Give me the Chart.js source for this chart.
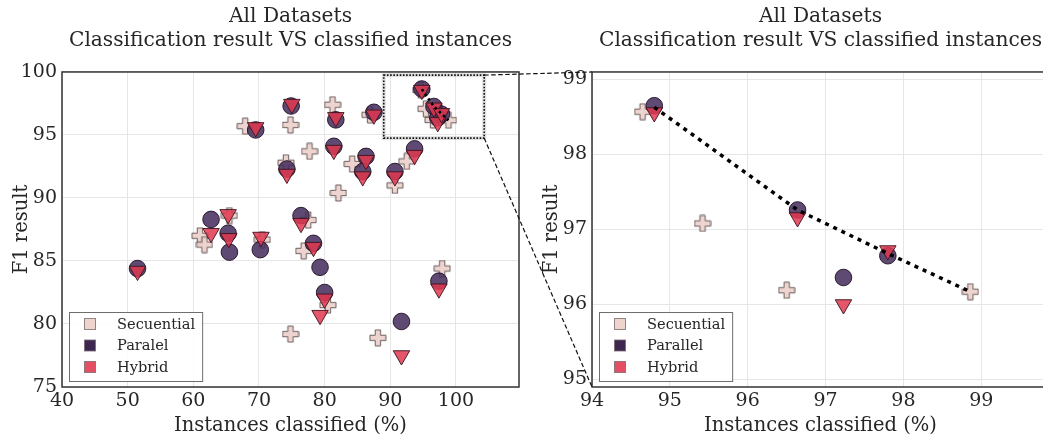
<!DOCTYPE html>
<html>
<head>
<meta charset="utf-8">
<script src="https://cdn.jsdelivr.net/npm/chart.js@4.4.1/dist/chart.umd.min.js"></script>
<style>
  html, body { margin: 0; padding: 0; background: #fff; overflow: hidden; }
  #wrap { position: relative; width: 1043px; height: 440px; overflow: hidden; }
  #left { position: absolute; left: 0; top: 0; }
  #right { position: absolute; left: 530px; top: 0; }
  #links { position: absolute; left: 0; top: 0; pointer-events: none; }
</style>
</head>
<body>
<div id="wrap">
  <canvas id="left" width="530" height="440"></canvas>
  <canvas id="right" width="530" height="440"></canvas>
  <canvas id="links" width="1043" height="440"></canvas>
</div>
<script>
// values
const sequentialX = [61.0, 61.7, 65.5, 70.5, 67.9, 74.8, 74.1, 74.8, 77.7, 77.5, 76.8, 80.5,
  81.2, 82.1, 84.2, 86.9, 88.1, 90.7, 92.5, 94.65, 95.42, 96.5, 98.86, 97.9];
const sequentialY = [87.0, 86.3, 88.6, 86.7, 95.7, 95.8, 92.8, 79.2, 93.7, 88.25, 85.8, 81.5,
  97.4, 90.4, 92.7, 96.6, 78.9, 91.0, 92.9, 98.57, 97.08, 96.19, 96.17, 84.4];

const parallelX = [51.5, 62.7, 65.3, 65.5, 70.2, 69.5, 74.9, 74.25, 76.4, 78.3, 79.3, 80.0,
  81.4, 81.7, 85.8, 86.3, 87.5, 90.7, 91.7, 93.7, 94.8, 96.64, 97.23, 97.8, 97.4];
const parallelY = [84.4, 88.3, 87.2, 85.7, 85.9, 95.4, 97.3, 92.3, 88.6, 86.4, 84.5, 82.5,
  94.1, 96.2, 92.1, 93.3, 96.8, 92.1, 80.2, 93.9, 98.65, 97.26, 96.36, 96.65, 83.4];

const hybridX = [51.5, 62.7, 65.3, 65.4, 70.3, 69.5, 75.0, 74.25, 76.4, 78.3, 80.0, 79.3,
  81.4, 81.7, 85.8, 86.3, 87.5, 90.7, 91.7, 93.7, 94.8, 96.64, 97.23, 97.8, 97.4];
const hybridY = [84.2, 87.2, 88.7, 86.8, 86.9, 95.6, 97.45, 91.9, 88.0, 86.1, 82.0, 80.7,
  93.8, 96.4, 91.7, 93.0, 96.6, 91.7, 77.5, 93.4, 98.56, 97.16, 96.0, 96.72, 82.8];

// black dotted front through the best points
const frontX = [94.8, 96.64, 97.8, 98.86];
const frontY = [98.63, 97.26, 96.68, 96.17];

const titleLines = ['All Datasets', 'Classification result VS classified instances'];
const xLabel = 'Instances classified (%)';
const yLabel = 'F1 result';
const leftNames = ['Secuential', 'Paralel', 'Hybrid'];
const rightNames = ['Secuential', 'Parallel', 'Hybrid'];

const leftRange = { xMin: 40, xMax: 109.6, yMin: 75, yMax: 100, xStep: 10, yStep: 5 };
const rightRange = { xMin: 94, xMax: 99.87, yMin: 94.9, yMax: 99.1, xStep: 1, yStep: 1 };
const zoomBox = { xMin: 89, xMax: 104.3, yMin: 94.75, yMax: 99.75 };

const legendColors = ['#efd3cd', '#3d2650', '#e54f63'];

const toPoints = (xs, ys) => xs.map((x, i) => ({ x: x, y: ys[i] }));

Chart.defaults.font.family = "'DejaVu Serif', serif";
Chart.defaults.color = '#262626';

// filled plus marker
const plus = document.createElement('canvas');
plus.width = 18;
plus.height = 18;
(() => {
  const c = plus.getContext('2d');
  const s = 16, t = s / 3, o = 1;
  c.beginPath();
  c.moveTo(o + t, o);
  c.lineTo(o + 2 * t, o);
  c.lineTo(o + 2 * t, o + t);
  c.lineTo(o + s, o + t);
  c.lineTo(o + s, o + 2 * t);
  c.lineTo(o + 2 * t, o + 2 * t);
  c.lineTo(o + 2 * t, o + s);
  c.lineTo(o + t, o + s);
  c.lineTo(o + t, o + 2 * t);
  c.lineTo(o, o + 2 * t);
  c.lineTo(o, o + t);
  c.lineTo(o + t, o + t);
  c.closePath();
  c.fillStyle = 'rgba(235,206,200,0.88)';
  c.fill();
  c.strokeStyle = 'rgba(85,70,72,0.85)';
  c.lineWidth = 1;
  c.stroke();
})();

const framePlugin = {
  id: 'frame',
  afterDatasetsDraw(chart, args, opts) {
    const { ctx, chartArea: a } = chart;
    ctx.save();
    ctx.strokeStyle = '#333';
    ctx.lineWidth = 1.5;
    ctx.strokeRect(a.left, a.top, a.right - a.left, a.bottom - a.top);

    if (opts.box) {
      const sx = chart.scales.x, sy = chart.scales.y;
      const x0 = sx.getPixelForValue(opts.box.xMin), x1 = sx.getPixelForValue(opts.box.xMax);
      const y0 = sy.getPixelForValue(opts.box.yMax), y1 = sy.getPixelForValue(opts.box.yMin);
      ctx.strokeStyle = 'rgba(0,0,0,0.12)';
      ctx.lineWidth = 4;
      ctx.strokeRect(x0, y0, x1 - x0, y1 - y0);
      ctx.strokeStyle = '#111';
      ctx.lineWidth = 1.6;
      ctx.setLineDash([1.6, 1.6]);
      ctx.strokeRect(x0, y0, x1 - x0, y1 - y0);
      ctx.setLineDash([]);
    }

    const names = opts.names;
    ctx.font = "14.6px 'DejaVu Serif'";
    const textW = Math.max(...names.map(n => ctx.measureText(n).width));
    const bh = 69;
    const bw = 48 + textW + 7;
    const bx = a.left + 7;
    const by = a.bottom - 6 - bh;
    ctx.fillStyle = 'rgba(255,255,255,0.85)';
    ctx.fillRect(bx, by, bw, bh);
    ctx.strokeStyle = '#6e6e6e';
    ctx.lineWidth = 1;
    ctx.strokeRect(bx + 0.5, by + 0.5, bw, bh);
    names.forEach((n, i) => {
      const cy = by + 12 + i * 21.5;
      ctx.fillStyle = legendColors[i];
      ctx.fillRect(bx + 15.5, cy - 5.5, 11, 11);
      ctx.strokeStyle = 'rgba(120,105,110,0.8)';
      ctx.strokeRect(bx + 15.5, cy - 5.5, 11, 11);
      ctx.fillStyle = '#262626';
      ctx.textBaseline = 'middle';
      ctx.textAlign = 'left';
      ctx.fillText(n, bx + 48, cy + 1);
    });
    ctx.restore();
  }
};

function makeDatasets(names, lineWidth, dash) {
  return [
    {
      label: names[0],
      data: toPoints(sequentialX, sequentialY),
      pointStyle: plus,
      pointRadius: 8,
      order: 3,
    },
    {
      label: names[1],
      data: toPoints(parallelX, parallelY),
      pointStyle: 'circle',
      pointRadius: 8.3,
      backgroundColor: 'rgba(67,42,90,0.85)',
      borderColor: 'rgba(30,15,35,0.9)',
      borderWidth: 1,
      order: 2,
    },
    {
      label: names[2],
      data: toPoints(hybridX, hybridY),
      pointStyle: 'triangle',
      pointRotation: 180,
      pointRadius: 9.5,
      backgroundColor: 'rgba(224,56,80,0.85)',
      borderColor: 'rgba(60,20,30,0.9)',
      borderWidth: 1,
      order: 1,
    },
    {
      label: 'front',
      data: toPoints(frontX, frontY),
      showLine: true,
      borderColor: '#000',
      borderWidth: lineWidth,
      borderDash: dash,
      pointRadius: 0,
      order: 0,
    },
  ];
}

function makeOptions(range, names, box) {
  return {
    responsive: false,
    animation: false,
    events: [],
    clip: 0,
    layout: { padding: { left: 0, right: 11, top: 0, bottom: 0 } },
    plugins: {
      legend: { display: false },
      tooltip: { enabled: false },
      title: {
        display: true,
        fullSize: false,
        text: titleLines,
        color: '#262626',
        font: { size: 20.2, weight: 'normal', lineHeight: 1.17 },
        padding: { top: 5, bottom: 19.7 },
      },
      frame: { names: names, box: box },
    },
    scales: {
      x: {
        type: 'linear',
        min: range.xMin,
        max: range.xMax,
        ticks: { stepSize: range.xStep, includeBounds: false, font: { size: 19 }, padding: 3, color: '#262626' },
        grid: { color: '#e6e6e6', drawTicks: false },
        border: { display: false },
        title: { display: true, text: xLabel, color: '#262626', font: { size: 19.5 }, padding: { top: 0, bottom: 2.5 } },
        afterFit: (s) => { s.height = 53; },
      },
      y: {
        type: 'linear',
        min: range.yMin,
        max: range.yMax,
        ticks: { stepSize: range.yStep, includeBounds: false, font: { size: 19 }, padding: 5, color: '#262626' },
        grid: { color: '#e6e6e6', drawTicks: false },
        border: { display: false },
        title: { display: true, text: yLabel, color: '#262626', font: { size: 19.5 }, padding: { top: 10, bottom: 0 } },
        afterFit: (s) => { s.width = 62; },
      },
    },
  };
}

const leftChart = new Chart('left', {
  type: 'scatter',
  data: { datasets: makeDatasets(leftNames, 2.6, [2.6, 3]) },
  options: makeOptions(leftRange, leftNames, zoomBox),
  plugins: [framePlugin],
});

const rightChart = new Chart('right', {
  type: 'scatter',
  data: { datasets: makeDatasets(rightNames, 3.5, [4, 5]) },
  options: makeOptions(rightRange, rightNames, null),
  plugins: [framePlugin],
});

// dashed connectors from the zoom box to the right axes
(() => {
  const ctx = document.getElementById('links').getContext('2d');
  const lx = leftChart.scales.x, ly = leftChart.scales.y;
  const rx = rightChart.scales.x, ry = rightChart.scales.y;
  const offset = 530;
  const bx = lx.getPixelForValue(zoomBox.xMax);
  const pairs = [
    [bx, ly.getPixelForValue(zoomBox.yMax), offset + rx.getPixelForValue(rx.min), ry.getPixelForValue(ry.max)],
    [bx, ly.getPixelForValue(zoomBox.yMin), offset + rx.getPixelForValue(rx.min), ry.getPixelForValue(ry.min)],
  ];
  ctx.strokeStyle = '#111';
  ctx.lineWidth = 1.2;
  ctx.setLineDash([4.5, 2.5]);
  pairs.forEach(([x0, y0, x1, y1]) => {
    ctx.beginPath();
    ctx.moveTo(x0, y0);
    ctx.lineTo(x1, y1);
    ctx.stroke();
  });
})();
</script>
</body>
</html>
